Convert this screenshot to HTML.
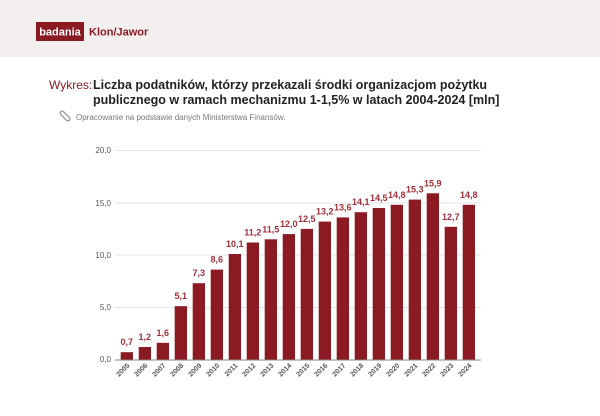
<!DOCTYPE html>
<html><head><meta charset="utf-8"><style>
body{margin:0;width:600px;height:411px;background:#fff;overflow:hidden;font-family:"Liberation Sans",sans-serif}
</style></head><body>
<svg width="600" height="411" xmlns="http://www.w3.org/2000/svg" font-family="Liberation Sans, sans-serif">
<rect x="0" y="0" width="600" height="57" fill="#f3efef"/>
<rect x="36" y="22" width="48" height="19" fill="#8b1a22"/>
<text x="60" y="35.5" text-anchor="middle" font-size="11" font-weight="bold" fill="#fff">badania</text>
<text x="89" y="35.5" font-size="11" font-weight="bold" fill="#8b1a22">Klon/Jawor</text>
<text x="49" y="89" font-size="12" fill="#8b1a22">Wykres:</text>
<text x="93" y="89" font-size="12.5" font-weight="bold" fill="#222">Liczba podatników, którzy przekazali środki organizacjom pożytku</text>
<text x="93" y="104" font-size="12.5" font-weight="bold" fill="#222">publicznego w ramach mechanizmu 1-1,5% w latach 2004-2024 [mln]</text>
<g transform="translate(65,116) rotate(-45)" fill="none" stroke="#999" stroke-width="1.3"><rect x="-2" y="-6" width="4" height="12" rx="2"/></g>
<text x="76" y="120" font-size="8" fill="#777">Opracowanie na podstawie danych Ministerstwa Finansów.</text>
<g stroke="#e3e3e3" stroke-width="1">
<line x1="115" y1="150.5" x2="481" y2="150.5"/><line x1="115" y1="203" x2="481" y2="203"/>
<line x1="115" y1="255" x2="481" y2="255"/><line x1="115" y1="307.5" x2="481" y2="307.5"/>
</g>
<g font-size="8" fill="#555" text-anchor="end">
<text x="111" y="153">20,0</text><text x="111" y="206">15,0</text><text x="111" y="258">10,0</text><text x="111" y="310">5,0</text><text x="111" y="362">0,0</text>
</g>
<g fill="#8b1a22">
<rect x="120.7" y="352.2" width="12.3" height="7.3"/>
<rect x="138.7" y="347.0" width="12.3" height="12.5"/>
<rect x="156.7" y="342.8" width="12.3" height="16.7"/>
<rect x="174.7" y="306.2" width="12.3" height="53.3"/>
<rect x="192.7" y="283.2" width="12.3" height="76.3"/>
<rect x="210.7" y="269.6" width="12.3" height="89.9"/>
<rect x="228.7" y="254.0" width="12.3" height="105.5"/>
<rect x="246.7" y="242.5" width="12.3" height="117.0"/>
<rect x="264.7" y="239.3" width="12.3" height="120.2"/>
<rect x="282.7" y="234.1" width="12.3" height="125.4"/>
<rect x="300.7" y="228.9" width="12.3" height="130.6"/>
<rect x="318.7" y="221.6" width="12.3" height="137.9"/>
<rect x="336.7" y="217.4" width="12.3" height="142.1"/>
<rect x="354.7" y="212.2" width="12.3" height="147.3"/>
<rect x="372.7" y="208.0" width="12.3" height="151.5"/>
<rect x="390.7" y="204.8" width="12.3" height="154.7"/>
<rect x="408.7" y="199.6" width="12.3" height="159.9"/>
<rect x="426.7" y="193.3" width="12.3" height="166.2"/>
<rect x="444.7" y="226.8" width="12.3" height="132.7"/>
<rect x="462.7" y="204.8" width="12.3" height="154.7"/>
</g>
<g font-size="9" font-weight="bold" fill="#a0303a" text-anchor="middle">
<text x="126.8" y="345.2">0,7</text>
<text x="144.8" y="340.0">1,2</text>
<text x="162.8" y="335.8">1,6</text>
<text x="180.8" y="299.2">5,1</text>
<text x="198.8" y="276.2">7,3</text>
<text x="216.8" y="262.6">8,6</text>
<text x="234.8" y="247.0">10,1</text>
<text x="252.8" y="235.5">11,2</text>
<text x="270.8" y="232.3">11,5</text>
<text x="288.8" y="227.1">12,0</text>
<text x="306.8" y="221.9">12,5</text>
<text x="324.8" y="214.6">13,2</text>
<text x="342.8" y="210.4">13,6</text>
<text x="360.8" y="205.2">14,1</text>
<text x="378.8" y="201.0">14,5</text>
<text x="396.8" y="197.8">14,8</text>
<text x="414.8" y="192.6">15,3</text>
<text x="432.8" y="186.3">15,9</text>
<text x="450.8" y="219.8">12,7</text>
<text x="468.8" y="197.8">14,8</text>
</g>
<line x1="115" y1="360" x2="481" y2="360" stroke="#888" stroke-width="1"/>
<g font-size="7" font-weight="bold" fill="#555" text-anchor="end">
<text transform="translate(130,366) rotate(-45)">2005</text>
<text transform="translate(148,366) rotate(-45)">2006</text>
<text transform="translate(166,366) rotate(-45)">2007</text>
<text transform="translate(184,366) rotate(-45)">2008</text>
<text transform="translate(202,366) rotate(-45)">2009</text>
<text transform="translate(220,366) rotate(-45)">2010</text>
<text transform="translate(238,366) rotate(-45)">2011</text>
<text transform="translate(256,366) rotate(-45)">2012</text>
<text transform="translate(274,366) rotate(-45)">2013</text>
<text transform="translate(292,366) rotate(-45)">2014</text>
<text transform="translate(310,366) rotate(-45)">2015</text>
<text transform="translate(328,366) rotate(-45)">2016</text>
<text transform="translate(346,366) rotate(-45)">2017</text>
<text transform="translate(364,366) rotate(-45)">2018</text>
<text transform="translate(382,366) rotate(-45)">2019</text>
<text transform="translate(400,366) rotate(-45)">2020</text>
<text transform="translate(418,366) rotate(-45)">2021</text>
<text transform="translate(436,366) rotate(-45)">2022</text>
<text transform="translate(454,366) rotate(-45)">2023</text>
<text transform="translate(472,366) rotate(-45)">2024</text>
</g>
</svg>
</body></html>
